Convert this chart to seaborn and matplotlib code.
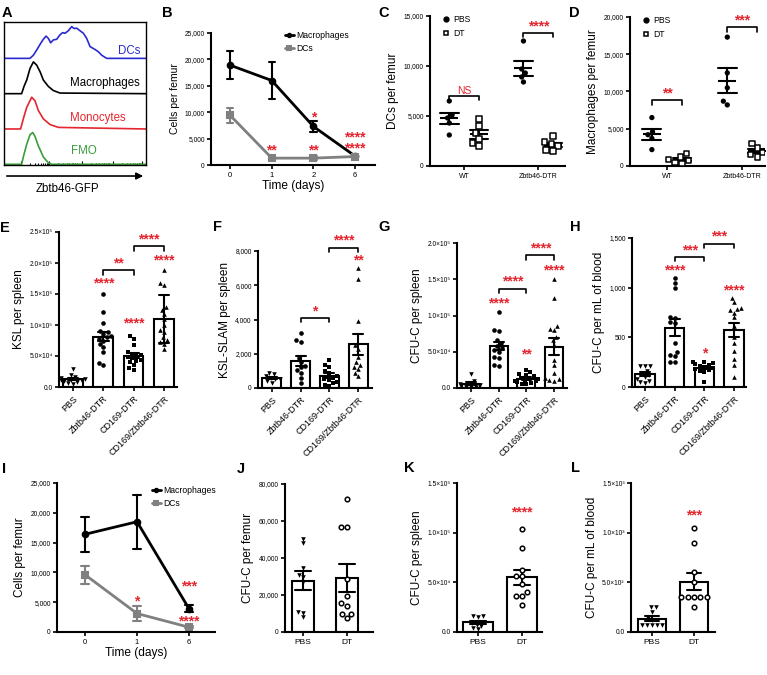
import numpy as np
import pandas as pd
import matplotlib
matplotlib.use('Agg')
import matplotlib.pyplot as plt
from matplotlib.lines import Line2D
import seaborn as sns

# ---------------- data ----------------
# A: Zbtb46-GFP histograms (x = channel, h = % of mode)
dc_x = [0, 18.3, 20.7, 23, 25.8, 27.7, 29.6, 31.2, 32.9, 34.7, 37.1, 39.4, 41.3, 43, 45.3,
        47.7, 49.3, 51.2, 53.5, 55.9, 58.2, 60.6, 64.1, 66.4, 68.8, 72.3, 100]
dc_h = [0, 0, 10, 26, 47, 60, 70, 63, 49, 58, 60, 74, 81, 79, 87, 100, 94, 95, 87, 79, 63,
        37, 28, 21, 10, 0, 0]
mac_x = [0, 12.4, 14.1, 16, 18.3, 20.7, 23, 25.4, 27.7, 31.2, 34.7, 39.4, 100]
mac_h = [0, 0, 23, 43, 79, 100, 90, 69, 43, 23, 10, 2, 0]
mono_x = [0, 11.7, 13.6, 16, 19.5, 21.8, 24.2, 27.7, 32.4, 38.3, 100]
mono_h = [0, 0, 32, 68, 100, 89, 58, 32, 14, 5, 0]
fmo_x = [0, 12.4, 13.6, 16, 18.3, 20.2, 21.8, 24.2, 27.7, 31.2, 33.6, 100]
fmo_h = [0, 0, 23, 63, 93, 100, 88, 58, 23, 5, 0, 0]

# B: time course (mean, sem)
days_b = ['0', '1', '2', '6']
mac_b_mean = [18900, 16000, 7300, 1700]
mac_b_sem = [2600, 3500, 1100, 150]
dc_b_mean = [9400, 1300, 1300, 1600]
dc_b_sem = [1450, 250, 350, 200]

# C, D: per-mouse values
genos = ['WT', 'Zbtb46-DTR']
c_wt_pbs = [6500, 5100, 4800, 4300, 3100]
c_wt_dt = [4700, 4000, 3300, 2700, 2300, 2000]
c_zb_pbs = [12500, 9700, 9300, 8900, 8400]
c_zb_dt = [3000, 2400, 2200, 2000, 1600, 1500]
d_wt_pbs = [6500, 4600, 4200, 3700, 2200]
d_wt_dt = [1700, 1200, 900, 700, 500, 300]
d_zb_pbs = [17300, 12500, 10500, 8700, 8200]
d_zb_dt = [3000, 2400, 2000, 1800, 1500, 1200]

# E-H: spleen / blood
groups = ['PBS', 'Zbtb46-DTR', 'CD169-DTR', 'CD169/Zbtb46-DTR']
e_vals = [[29000, 20000, 16000, 14000, 13000, 12000, 11000, 10000, 9000, 8000, 6000, 5000],
          [150000, 121000, 103000, 90000, 88000, 85000, 82000, 80000, 78000, 75000, 70000,
           65000, 57000, 38000, 36000],
          [82000, 78000, 67000, 56000, 54000, 52000, 50000, 48000, 46000, 44000, 42000, 40000,
           36000, 30000, 27000],
          [189000, 168000, 165000, 129000, 125000, 118000, 110000, 100000, 92000, 88000, 80000,
           76000, 73000, 70000, 62000]]
f_vals = [[900, 800, 700, 600, 500, 500, 400, 300],
          [3200, 2800, 2700, 1750, 1500, 1300, 1200, 1050, 900, 600, 300],
          [1650, 1350, 1250, 1000, 850, 700, 600, 500, 450, 350, 300, 200, 100],
          [7000, 6350, 3900, 2500, 2300, 1800, 1500, 1350, 1250, 1100, 900, 700]]
g_vals = [[19000, 10000, 7000, 5500, 4000, 3000, 2000, 1500, 1000],
          [105000, 80000, 78000, 66000, 62000, 58000, 55000, 52000, 50000, 43000, 41000, 32000,
           30000],
          [25000, 22000, 20000, 18000, 16000, 14000, 13000, 12000, 11000, 10000, 9000, 8000,
           7000, 6000, 5000],
          [151000, 124000, 85000, 82000, 80000, 71000, 66000, 60000, 39000, 32000, 21000, 14000,
           12000, 11000, 10000]]
h_vals = [[215, 215, 210, 160, 140, 120, 100, 80, 60, 50, 40],
          [1100, 1050, 1000, 700, 690, 650, 640, 440, 350, 320, 310, 250, 250],
          [250, 250, 240, 230, 220, 210, 200, 190, 180, 170, 160, 150, 50],
          [900, 860, 800, 790, 780, 750, 700, 610, 500, 440, 360, 280, 220, 100]]

# I: time course
days_i = ['0', '1', '6']
mac_i_mean = [16400, 18500, 3900]
mac_i_sem = [2900, 4500, 550]
dc_i_mean = [9600, 3100, 800]
dc_i_sem = [1500, 1200, 150]

# J-L
treats = ['PBS', 'DT']
j_vals = [[50500, 48000, 34500, 31000, 30000, 27000, 11000, 10500, 8000],
          [72000, 57000, 56500, 28500, 19500, 15500, 14000, 10000, 9500, 7500]]
k_vals = [[16500, 15800, 15000, 10000, 9000, 7500, 6500, 4000, 3000],
          [103500, 84500, 62500, 56500, 56000, 48000, 40000, 36500, 36000, 27500]]
l_vals = [[255, 250, 205, 140, 120, 75, 70, 70, 70, 70],
          [1050, 900, 600, 500, 350, 350, 350, 350, 350, 250]]

# tick labels
ticks_25k = ['0', '5,000', '10,000', '15,000', '20,000', '25,000']
ticks_15k = ['0', '5,000', '10,000', '15,000']
ticks_20k = ['0', '5,000', '10,000', '15,000', '20,000']
ticks_e = ['0.0', '5.0×10⁴', '1.0×10⁵', '1.5×10⁵', '2.0×10⁵', '2.5×10⁵']
ticks_f = ['0', '2,000', '4,000', '6,000', '8,000']
ticks_h = ['0', '500', '1,000', '1,500']
ticks_j = ['0', '20,000', '40,000', '60,000', '80,000']
ticks_k = ['0.0', '5.0×10⁴', '1.0×10⁵', '1.5×10⁵']
ticks_l = ['0.0', '5.0×10²', '1.0×10³', '1.5×10³']

RED = '#e3262f'

# ---------------- style ----------------
sns.set_theme(style='ticks')
plt.rcParams['font.family'] = ['Liberation Sans', 'DejaVu Sans']
plt.rcParams.update({'axes.linewidth': 1.5, 'xtick.major.width': 1.2, 'ytick.major.width': 1.2,
                     'xtick.major.size': 3, 'ytick.major.size': 3, 'axes.edgecolor': 'black',
                     'xtick.color': 'black', 'ytick.color': 'black', 'text.color': 'black',
                     'axes.labelcolor': 'black'})

W, H = 767, 675
fig = plt.figure(figsize=(W / 100, H / 100), dpi=100)


def box(l, t, r, b):
    return fig.add_axes([l / W, 1 - b / H, (r - l) / W, (b - t) / H])


def prism(ax, ymax, labels, ylabel, xlim, yfs=8.5):
    sns.despine(ax=ax)
    ax.set_ylim(0, ymax)
    ax.set_yticks(np.linspace(0, ymax, len(labels)), labels)
    ax.set_xlim(*xlim)
    ax.tick_params(axis='y', labelsize=4.8, pad=1.5)
    ax.tick_params(axis='x', pad=2)
    ax.set_ylabel(ylabel, fontsize=yfs, labelpad=3)
    ax.set_xlabel('')


def stars(ax, x, y, s):
    ax.text(x, y, s, ha='center', va='center', color=RED, fontsize=10,
            fontweight='bold', clip_on=False, linespacing=0.75)


def bracket(ax, x1, x2, y, s, h, color=RED, fs=10, weight='bold'):
    ax.plot([x1, x1, x2, x2], [y - h, y, y, y - h], color='black', lw=1.2, clip_on=False)
    ax.text((x1 + x2) / 2, y, s, ha='center', va='bottom', color=color, fontsize=fs,
            fontweight=weight, clip_on=False)


def letter(x, y, s):
    fig.text(x / W, 1 - y / H, s, fontsize=10.5, fontweight='bold', ha='center', va='center')


def time_panel(ax, days, mac_mean, mac_sem, dc_mean, dc_sem):
    rows = []
    for name, means, sems in [('Macrophages', mac_mean, mac_sem), ('DCs', dc_mean, dc_sem)]:
        for d, m, s in zip(days, means, sems):
            rows += [(d, name, m - s), (d, name, m), (d, name, m + s)]
    df = pd.DataFrame(rows, columns=['day', 'cell', 'count'])
    sns.pointplot(data=df, x='day', y='count', hue='cell', order=days,
                  hue_order=['Macrophages', 'DCs'],
                  palette={'Macrophages': 'black', 'DCs': '#808080'}, markers=['o', 's'],
                  estimator='mean', errorbar=lambda v: (v.min(), v.max()), capsize=0.15,
                  markersize=4, linewidth=2, err_kws={'linewidth': 1.5}, ax=ax)
    leg = ax.get_legend()
    handles = leg.legend_handles
    labels = [t.get_text() for t in leg.get_texts()]
    return handles, labels


def dot_panel(ax, vals):
    rows = []
    for (g, t), v in vals.items():
        rows += [(g, t, x) for x in v]
    df = pd.DataFrame(rows, columns=['geno', 'treat', 'value'])
    pal = {'PBS': 'black', 'DT': 'white'}
    sns.swarmplot(data=df[df.treat == 'PBS'], x='geno', y='value', hue='treat', order=genos,
                  hue_order=treats, dodge=True, palette=pal, marker='o', size=3.8,
                  linewidth=0, legend=False, warn_thresh=1, ax=ax)
    sns.swarmplot(data=df[df.treat == 'DT'], x='geno', y='value', hue='treat', order=genos,
                  hue_order=treats, dodge=True, palette=pal, marker='s', size=3.8,
                  edgecolor='black', linewidth=1.1, legend=False, warn_thresh=1, ax=ax)
    sns.pointplot(data=df, x='geno', y='value', hue='treat', order=genos, hue_order=treats,
                  dodge=0.4, palette={'PBS': 'black', 'DT': 'black'}, marker='_',
                  linestyle='none', errorbar='se', capsize=0.25, markersize=13,
                  markeredgewidth=1.5, err_kws={'linewidth': 1.5}, legend=False, ax=ax)
    ax.tick_params(axis='x', labelsize=5)
    handles = [Line2D([], [], marker='o', ls='none', color='black', markersize=3.5),
               Line2D([], [], marker='s', ls='none', markerfacecolor='white',
                      markeredgecolor='black', markeredgewidth=1.1, markersize=3.5)]
    ax.legend(handles, treats, loc='upper left', bbox_to_anchor=(0.07, 1.03), frameon=False,
              fontsize=6.2, handlelength=0.8, handletextpad=0.4, labelspacing=0.6,
              borderaxespad=0)


def bar_panel(ax, cats, vals, markers, width, errs=None, faces=None):
    df = pd.DataFrame({'group': np.repeat(cats, [len(v) for v in vals]),
                       'value': np.concatenate(vals)})
    errs = errs or ['se'] * len(cats)
    faces = faces or ['black'] * len(cats)
    for g, err in zip(cats, errs):
        sns.barplot(data=df[df.group == g], x='group', y='value', order=cats, errorbar=err,
                    capsize=0.35, width=width, color='white', edgecolor='black', linewidth=1.5,
                    err_kws={'color': 'black', 'linewidth': 1.5}, ax=ax)
    for g, m, fc in zip(cats, markers, faces):
        lw = 0 if fc == 'black' else 1.1
        sns.swarmplot(data=df[df.group == g], x='group', y='value', order=cats, marker=m,
                      color=fc, edgecolor='black', linewidth=lw, size=3.3, warn_thresh=1, ax=ax)


# ---------------- A ----------------
axA = box(4, 22, 146, 165)
rows = []
for i, (name, xs, hs) in enumerate([('FMO', fmo_x, fmo_h), ('Monocytes', mono_x, mono_h),
                                    ('Macrophages', mac_x, mac_h), ('DCs', dc_x, dc_h)]):
    rows += [(name, xv, i + hv * 0.009) for xv, hv in zip(xs, hs)]
dfA = pd.DataFrame(rows, columns=['pop', 'x', 'y'])
a_colors = {'FMO': '#3a9d3a', 'Monocytes': '#e3262f', 'Macrophages': 'black', 'DCs': '#2a2ad0'}
sns.lineplot(data=dfA, x='x', y='y', hue='pop', palette=a_colors, estimator=None, sort=False,
             linewidth=1.2, legend=False, ax=axA)
axA.set_xlim(0, 100)
axA.set_ylim(-0.02, 4.03)
axA.set_yticks([])
axA.set_xlabel('')
axA.set_ylabel('')
axA.set_xticks([12, 32, 55, 77, 97])
axA.set_xticks([x + 20 * np.log10(k) for x in [12, 32, 55, 77] for k in range(2, 10)], minor=True)
axA.tick_params(axis='x', which='both', direction='in', labelbottom=False, width=0.8)
axA.tick_params(axis='x', which='major', length=3)
axA.tick_params(axis='x', which='minor', length=1.5)
for s in axA.spines.values():
    s.set_linewidth(1.0)
for txt, xx, yy in [('DCs', 95.8, 3.22), ('Macrophages', 95.8, 2.29), ('Monocytes', 85.9, 1.32),
                    ('FMO', 65.3, 0.385)]:
    axA.text(xx, yy, txt, ha='right', va='center', fontsize=8.3, color=a_colors[txt])
axA.annotate('', xy=(1.0, -0.077), xytext=(0, -0.077), xycoords='axes fraction',
             arrowprops=dict(arrowstyle='-|>', color='black', lw=1.2, mutation_scale=10),
             annotation_clip=False)
axA.text(0.45, -0.165, 'Zbtb46-GFP', transform=axA.transAxes, ha='center', va='center',
         fontsize=8.3)

# ---------------- B ----------------
axB = box(211, 33, 375, 165)
hB, lB = time_panel(axB, days_b, mac_b_mean, mac_b_sem, dc_b_mean, dc_b_sem)
prism(axB, 25000, ticks_25k, 'Cells per femur', (-0.46, 3.48), yfs=7.5)
axB.legend(hB, lB, loc='upper left', bbox_to_anchor=(0.43, 1.04), frameon=False, fontsize=6.2,
           handlelength=1.0, handletextpad=0.3, borderaxespad=0, labelspacing=0.4,
           markerscale=0.6)
axB.set_xlabel('Time (days)', fontsize=8.6, labelpad=1)
axB.tick_params(axis='x', labelsize=5.5)
stars(axB, 2, 9000, '*')
stars(axB, 1, 2700, '**')
stars(axB, 2, 2700, '**')
stars(axB, 3, 4200, '****\n****')

# ---------------- C ----------------
axC = box(430, 16, 565, 166)
dot_panel(axC, {('WT', 'PBS'): c_wt_pbs, ('WT', 'DT'): c_wt_dt,
                ('Zbtb46-DTR', 'PBS'): c_zb_pbs, ('Zbtb46-DTR', 'DT'): c_zb_dt})
prism(axC, 15000, ticks_15k, 'DCs per femur', (-0.46, 1.36))
bracket(axC, -0.2, 0.2, 7000, 'NS', 450, fs=7.5, weight='normal')
bracket(axC, 0.8, 1.2, 13300, '****', 450)

# ---------------- D ----------------
axD = box(630, 17, 765, 166)
dot_panel(axD, {('WT', 'PBS'): d_wt_pbs, ('WT', 'DT'): d_wt_dt,
                ('Zbtb46-DTR', 'PBS'): d_zb_pbs, ('Zbtb46-DTR', 'DT'): d_zb_dt})
prism(axD, 20000, ticks_20k, 'Macrophages per femur', (-0.49, 1.3))
bracket(axD, -0.2, 0.2, 8800, '**', 600)
bracket(axD, 0.8, 1.2, 18650, '***', 600)

# ---------------- E-H ----------------
mk4 = ['v', 'o', 's', '^']
panels = [
    (box(59, 232, 177, 387), e_vals, 250000, ticks_e, 'KSL per spleen', (-0.46, 3.43),
     ['se', 'se', 'se', 'sd'],
     [(1, 167000, '****'), (2, 103000, '****'), (3, 204000, '****')],
     [(1, 2, 188000, '**'), (2, 3, 227000, '****')]),
    (box(258, 251, 372, 388), f_vals, 8000, ticks_f, 'KSL-SLAM per spleen', (-0.48, 3.48),
     None, [(3, 7460, '**')], [(1, 2, 4070, '*'), (2, 3, 8200, '****')]),
    (box(457, 243, 567, 388), g_vals, 200000, ticks_e[:5], 'CFU-C per spleen', (-0.5, 3.46),
     None, [(1, 116000, '****'), (2, 46000, '**'), (3, 162000, '****')],
     [(1, 2, 137000, '****'), (2, 3, 183000, '****')]),
    (box(632, 238, 746, 387), h_vals, 1500, ticks_h, 'CFU-C per mL of blood', (-0.44, 3.4),
     None, [(1, 1174, '****'), (2, 336, '*'), (3, 970, '****')],
     [(1, 2, 1309, '***'), (2, 3, 1443, '***')]),
]
for ax, vals, ymax, tl, ylab, xl, errs, st, br in panels:
    bar_panel(ax, groups, vals, mk4, 0.65, errs=errs)
    prism(ax, ymax, tl, ylab, xl)
    ax.set_xticks(range(4), groups)
    ax.tick_params(axis='x', labelsize=6.5)
    for lab in ax.get_xticklabels():
        lab.set_rotation(45)
        lab.set_ha('right')
        lab.set_rotation_mode('anchor')
    for x, y, s in st:
        stars(ax, x, y, s)
    for x1, x2, y, s in br:
        bracket(ax, x1, x2, y, s, ymax * 0.03)

# ---------------- I ----------------
axI = box(57, 483, 215, 632)
hI, lI = time_panel(axI, days_i, mac_i_mean, mac_i_sem, dc_i_mean, dc_i_sem)
prism(axI, 25000, ticks_25k, 'Cells per femur', (-0.54, 2.5))
axI.legend(hI, lI, loc='upper left', bbox_to_anchor=(0.58, 1.0), frameon=False, fontsize=6.2,
           handlelength=1.0, handletextpad=0.3, borderaxespad=0, labelspacing=0.4,
           markerscale=0.6)
axI.set_xlabel('Time (days)', fontsize=8.6, labelpad=1)
axI.tick_params(axis='x', labelsize=5.5)
stars(axI, 1, 5200, '*')
stars(axI, 2, 7700, '***')
stars(axI, 2, 1700, '****')

# ---------------- J-L ----------------
for ax, vals, ymax, tl, ylab, xl, width, st in [
        (box(285, 484, 373, 632), j_vals, 80000, ticks_j, 'CFU-C per femur', (-0.41, 1.59), 0.5,
         []),
        (box(457, 483, 542, 632), k_vals, 150000, ticks_k, 'CFU-C per spleen', (-0.48, 1.45),
         0.68, [(1, 120000, '****')]),
        (box(631, 483, 715, 632), l_vals, 1500, ticks_l, 'CFU-C per mL of blood', (-0.5, 1.5),
         0.67, [(1, 1176, '***')])]:
    bar_panel(ax, treats, vals, ['v', 'o'], width, faces=['black', 'white'])
    prism(ax, ymax, tl, ylab, xl)
    ax.tick_params(axis='x', labelsize=6)
    for x, y, s in st:
        stars(ax, x, y, s)

for x, y, s in [(7, 13, 'A'), (167, 13, 'B'), (384, 13, 'C'), (574, 13, 'D'),
                (5, 228, 'E'), (217, 227, 'F'), (384, 227, 'G'), (575, 227, 'H'),
                (4, 469, 'I'), (241, 469, 'J'), (409, 468, 'K'), (576, 468, 'L')]:
    letter(x, y, s)

fig.savefig('out.png', dpi=100)
